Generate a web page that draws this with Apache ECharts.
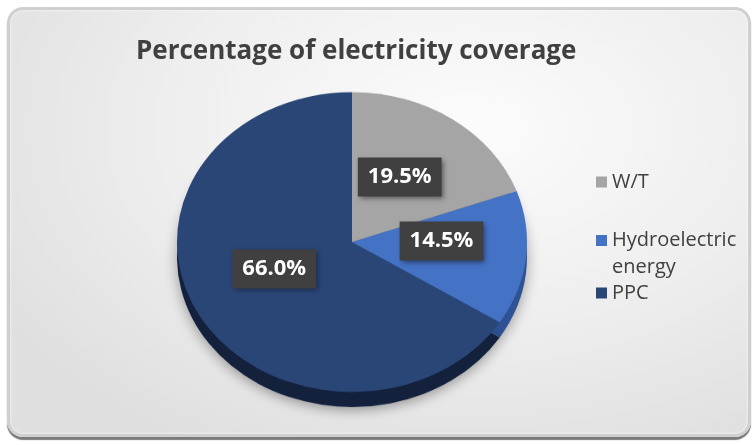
<!DOCTYPE html>
<html><head><meta charset="utf-8">
<script src="https://cdn.jsdelivr.net/npm/echarts/dist/echarts.min.js"></script>
<style>
html,body{margin:0;padding:0;background:#fff;}
#wrap{position:relative;width:756px;height:445px;overflow:hidden;background:#fff;}
#frame{position:absolute;left:7px;top:7px;width:744px;height:430px;border-radius:16px;box-sizing:border-box;
 background: radial-gradient(ellipse 75% 85% at 62% 28%, #fcfcfc 0%, #eeeeee 55%, #dfdfdf 100%);
 border:3px solid #cfcfcf; box-shadow: 0 3px 1px #7a7a7a, inset 0 0 3px rgba(255,255,255,0.9);}
#pie{position:absolute;left:0;top:0;width:756px;height:519px;transform:scaleY(0.857);transform-origin:0 0;}
#main{position:absolute;left:0;top:0;width:756px;height:445px;}
</style></head>
<body>
<div id="wrap"><div id="frame"></div><div id="pie"></div><div id="main"></div></div>
<script>
const categories = ['W/T', 'Hydroelectric energy', 'PPC'];
const shares = [19.5, 14.5, 66.0];
const topColors = ['#a5a5a5', '#4472c4', '#2a4677'];
const sideColors = ['#6f6f6f', '#2e5294', '#13213d'];
const labelOffsets = [[0, 3], [7, -10], [-5, -13]];

const K = 0.857;
const CX = 352, CY = 242, R = 175, DEPTH = 15;

const pieChart = echarts.init(document.getElementById('pie'), null, {renderer: 'canvas'});
pieChart.setOption({
  animation: false,
  series: [
    {
      type: 'pie', silent: true, z: 1,
      center: [CX, (CY + DEPTH) / K], radius: R,
      label: {show: false}, labelLine: {show: false},
      itemStyle: {shadowBlur: 14, shadowColor: 'rgba(0,0,0,0.35)', shadowOffsetY: 4},
      data: categories.map((c, i) => ({name: c, value: shares[i], itemStyle: {color: sideColors[i]}}))
    },
    {
      type: 'pie', silent: true, z: 2,
      center: [CX, CY / K], radius: R,
      label: {show: false}, labelLine: {show: false},
      data: categories.map((c, i) => ({name: c, value: shares[i], itemStyle: {color: topColors[i]}}))
    }
  ]
});

const legendBase = {
  orient: 'vertical', left: 596, padding: 0, icon: 'rect', itemWidth: 11, itemHeight: 11,
  selectedMode: false,
  textStyle: {fontFamily: 'Open Sans', fontSize: 20, color: '#404040'}
};

const main = echarts.init(document.getElementById('main'), null, {renderer: 'canvas'});
main.setOption({
  animation: false,
  title: {
    text: 'Percentage of electricity coverage', left: 131, top: 34,
    textStyle: {fontFamily: 'Open Sans', fontWeight: 'bold', fontSize: 26, color: '#404040'}
  },
  legend: [
    Object.assign({}, legendBase, {top: 172, data: [{name: categories[0], itemStyle: {color: topColors[0], opacity: 1}}]}),
    Object.assign({}, legendBase, {top: 200, data: [{name: categories[1], itemStyle: {color: topColors[1], opacity: 1}}],
      formatter: () => ' \nHydroelectric\nenergy',
      textStyle: {fontFamily: 'Open Sans', fontSize: 20, color: '#404040', lineHeight: 27}}),
    Object.assign({}, legendBase, {top: 283, data: [{name: categories[2], itemStyle: {color: topColors[2], opacity: 1}}]})
  ],
  series: [{
    type: 'pie', silent: true,
    center: [CX, CY], radius: 160,
    itemStyle: {color: 'rgba(0,0,0,0)', opacity: 0},
    labelLine: {show: false},
    label: {
      show: true, position: 'inside', opacity: 1,
      formatter: p => p.value.toFixed(1) + '%',
      color: '#ffffff', fontFamily: 'Open Sans', fontWeight: 'bold', fontSize: 22,
      backgroundColor: '#404040', padding: [9, 10, 8, 10],
      shadowColor: 'rgba(0,0,0,0.45)', shadowBlur: 5, shadowOffsetX: 2, shadowOffsetY: 2
    },
    data: categories.map((c, i) => ({name: c, value: shares[i], label: {offset: labelOffsets[i]}}))
  }]
});
</script>
</body></html>
